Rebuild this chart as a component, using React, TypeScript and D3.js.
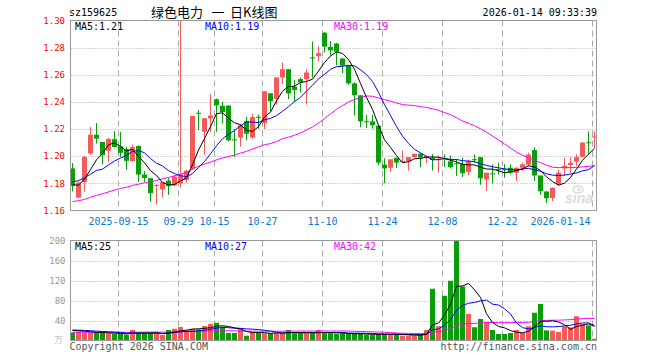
import React from "react";
import * as d3 from "d3";

// ---- data ----
const dates = [
  "2025-09-03","2025-09-04","2025-09-05","2025-09-08","2025-09-09","2025-09-10","2025-09-11","2025-09-12",
  "2025-09-15","2025-09-16","2025-09-17","2025-09-18","2025-09-19","2025-09-22","2025-09-23","2025-09-24",
  "2025-09-25","2025-09-26","2025-09-29","2025-09-30","2025-10-09","2025-10-10","2025-10-13","2025-10-14",
  "2025-10-15","2025-10-16","2025-10-17","2025-10-20","2025-10-21","2025-10-22","2025-10-23","2025-10-24",
  "2025-10-27","2025-10-28","2025-10-29","2025-10-30","2025-10-31","2025-11-03","2025-11-04","2025-11-05",
  "2025-11-06","2025-11-07","2025-11-10","2025-11-11","2025-11-12","2025-11-13","2025-11-14","2025-11-17",
  "2025-11-18","2025-11-19","2025-11-20","2025-11-21","2025-11-24","2025-11-25","2025-11-26","2025-11-27",
  "2025-11-28","2025-12-01","2025-12-02","2025-12-03","2025-12-04","2025-12-05","2025-12-08","2025-12-09",
  "2025-12-10","2025-12-11","2025-12-12","2025-12-15","2025-12-16","2025-12-17","2025-12-18","2025-12-19",
  "2025-12-22","2025-12-23","2025-12-24","2025-12-25","2025-12-26","2025-12-29","2025-12-30","2025-12-31",
  "2026-01-05","2026-01-06","2026-01-07","2026-01-08","2026-01-09","2026-01-12","2026-01-13","2026-01-14",
];

const opens = [
  1.191,1.1695,1.181,1.202,1.2158,1.2105,1.204,1.2125,1.2073,1.2052,
  1.1965,1.2075,1.1865,1.1838,1.1782,1.1755,1.182,1.1785,1.18,1.1825,
  1.191,1.232,1.218,1.2278,1.242,1.2372,1.2373,1.2124,1.2137,1.2259,
  1.2137,1.229,1.2244,1.2463,1.2422,1.258,1.2641,1.2512,1.2568,1.2568,
  1.2728,1.2737,1.291,1.2805,1.283,1.272,1.2668,1.2537,1.2449,1.2258,
  1.2257,1.2225,1.1938,1.1915,1.1988,1.1958,1.1963,1.1993,1.2018,1.1995,
  1.1988,1.1975,1.1985,1.1962,1.1948,1.1945,1.1885,1.1978,1.1993,1.1829,
  1.1873,1.1905,1.1905,1.1915,1.1878,1.1915,1.1937,1.2045,1.1858,1.174,
  1.1692,1.1793,1.191,1.1935,1.196,1.1996,1.2102,1.2138,
];
const highs = [
  1.195,1.1815,1.2,1.2215,1.2244,1.2105,1.2135,1.2185,1.218,1.207,
  1.2085,1.208,1.189,1.184,1.1795,1.181,1.1838,1.1858,1.4,1.19,
  1.2296,1.234,1.228,1.246,1.2425,1.24,1.2375,1.22,1.2234,1.229,
  1.2312,1.2307,1.248,1.2465,1.258,1.269,1.2641,1.256,1.258,1.2641,
  1.2845,1.281,1.2915,1.2849,1.2835,1.2725,1.267,1.2545,1.245,1.2306,
  1.2306,1.2225,1.1985,1.1977,1.199,1.2042,1.1995,1.2018,1.2025,1.2005,
  1.2015,1.2005,1.2013,1.2005,1.198,1.199,1.1975,1.2013,1.1995,1.1878,
  1.194,1.1952,1.194,1.194,1.1918,1.1952,1.2025,1.2065,1.1858,1.1742,
  1.1768,1.1903,1.1988,1.1995,1.2013,1.2103,1.2183,1.2183,
];
const lows = [
  1.174,1.169,1.174,1.201,1.2093,1.194,1.196,1.2065,1.1995,1.19,
  1.1958,1.181,1.181,1.1665,1.1645,1.1695,1.1715,1.1778,1.177,1.1805,
  1.19,1.2195,1.201,1.218,1.218,1.224,1.211,1.1995,1.207,1.2117,
  1.213,1.2202,1.22,1.2332,1.238,1.2532,1.242,1.24,1.247,1.238,
  1.258,1.27,1.2765,1.2741,1.267,1.261,1.2525,1.23,1.2213,1.2208,
  1.2203,1.1935,1.18,1.1885,1.1913,1.1955,1.1893,1.199,1.192,1.195,
  1.1895,1.188,1.192,1.191,1.1855,1.1847,1.186,1.1952,1.179,1.1744,
  1.18,1.1866,1.1842,1.1866,1.1818,1.189,1.1927,1.1818,1.1715,1.1655,
  1.167,1.1781,1.1854,1.1875,1.1927,1.1995,1.2018,1.206,
];
const closes = [
  1.178,1.1805,1.1995,1.2158,1.213,1.201,1.2127,1.2068,1.2025,1.1966,
  1.2067,1.1865,1.184,1.1728,1.1788,1.181,1.178,1.185,1.1866,1.1893,
  1.2296,1.2318,1.228,1.23,1.2375,1.2325,1.2117,1.2117,1.2227,1.2166,
  1.2288,1.2288,1.2478,1.2405,1.258,1.2641,1.2463,1.2488,1.2544,1.2617,
  1.2725,1.276,1.2808,1.278,1.277,1.2668,1.2537,1.2449,1.2257,1.2255,
  1.2228,1.1953,1.191,1.1977,1.1953,1.1965,1.1993,1.2018,1.199,1.2,
  1.1972,1.1978,1.198,1.192,1.1944,1.1875,1.1964,1.1975,1.1837,1.1878,
  1.187,1.1902,1.1901,1.1878,1.1915,1.194,1.2012,1.1858,1.1742,1.169,
  1.1768,1.1878,1.193,1.1952,1.1993,1.21,1.2099,1.2145,
];
// closes of the 29 sessions before the first visible one (only feed the moving averages)
const priorCloses = [
  1.165,1.17,1.168,1.172,1.166,1.17,1.168,1.165,1.17,1.166,
  1.16,1.155,1.15,1.148,1.145,1.147,1.15,1.152,1.155,1.148,
  1.17,1.18,1.188,1.186,1.191,1.182,1.178,1.18,1.177,
];
// volume, 万手
const volumes = [
  16,17.5,16,16,15,15,14.5,13,13,11.7,
  21,14.3,14.3,14.3,14.3,11,21,23.5,27,20.5,
  23,22.3,29,33,35.5,27.7,15,15,22.3,9.5,
  17.5,15,14.5,14.5,14.5,14.5,21,14.5,14.5,14.5,
  14.5,21,14.5,14.5,13,15,13,13,13,11.7,
  11.7,13,13,11.7,13,9.7,9.7,9.7,11.7,21,
  103.5,28.5,89.5,119.5,200,108,53,26.5,43,37,
  21,13,13,15,21,15,28.5,55.5,73,20.3,
  19.7,17,28.3,26.3,48.5,33,30.3,3.7,
];
const priorVolumes = [
  13,14,15,14,13,15,14,13,14,15,14,13,14,15,14,13,14,15,14,14,
  20,22,21,23,22,21,20,22,22,
];

const tickDates = ["2025-09-15","2025-09-29","2025-10-15","2025-10-27","2025-11-10","2025-11-24","2025-12-08","2025-12-22","2026-01-14"];
const tickLabels = ["2025-09-15","09-29","10-15","10-27","11-10","11-24","12-08","12-22","2026-01-14"];
const priceTicks = [1.16,1.18,1.2,1.22,1.24,1.26,1.28,1.3];
const volumeTicks = [40,80,120,160,200];

const maPeriods = [5,10,30];
const maColors = ["#000000","#0000ff","#ff00ff"];
const priceMaLabels = ["MA5:1.21","MA10:1.19","MA30:1.19"];
const volumeMaLabels = ["MA5:25","MA10:27","MA30:42"];

const titleCode = "sz159625";
const titleParts = ["绿色电力","一","日K线图"];
const timeStamp = "2026-01-14 09:33:39";

// ---- layout ----
const W = 660, H = 360;
const L = 70.5, R = 596.5;
const pTop = 20.5, pBot = 210.5;
const vTop = 240.5, vBot = 340.5;
const RED = "#f45a5a";
const GREEN = "#0a9e0a";
const GRID = "#a8a8a8";
const MONO = "'DejaVu Sans Mono', 'Liberation Mono', monospace";

function movingAvg(prior: number[], vals: number[], n: number): number[] {
  const all = prior.concat(vals);
  const off = prior.length;
  return vals.map((_, i) => d3.mean(all.slice(off + i - n + 1, off + i + 1)) as number);
}

export default function App() {
  const idx = d3.range(dates.length);
  const x = d3.scaleBand<number>().domain(idx).range([70, 70 + 6 * dates.length]).padding(0);
  const cx = (i: number) => (x(i) as number) + 2.5;
  const yP = d3.scaleLinear().domain([1.16, 1.3]).range([pBot, pTop]);
  const yV = d3.scaleLinear().domain([0, 200]).range([vBot, vTop]);

  const priceMA = maPeriods.map((n) => movingAvg(priorCloses, closes, n));
  const volMA = maPeriods.map((n) => movingAvg(priorVolumes, volumes, n));
  const lineP = d3.line<number>().x((_, i) => cx(i)).y((d) => yP(d));
  const lineV = d3.line<number>().x((_, i) => cx(i)).y((d) => yV(d));

  const tickIdx = tickDates.map((d) => dates.indexOf(d));
  const gridX = (i: number) => (x(i) as number) + 0.5;
  const up = (i: number) => closes[i] >= opens[i];

  return (
    <svg width={W} height={H} style={{ position: "absolute", left: 0, top: 0, background: "#fff" }}
      fontFamily={MONO}>
      <defs>
        <clipPath id="clipP"><rect x={L} y={pTop} width={R - L} height={pBot - pTop} /></clipPath>
        <clipPath id="clipV"><rect x={L} y={vTop} width={R - L} height={vBot - vTop} /></clipPath>
      </defs>
      <rect x={0} y={0} width={W} height={H} fill="#fff" />

      {/* header */}
      <text x={69} y={16} fontSize={10} fill="#000">{titleCode}</text>
      <text y={16.5} fontSize={13} fill="#000" fontFamily="'Noto Sans CJK SC', sans-serif">
        <tspan x={151}>{titleParts[0]}</tspan>
        <tspan x={211.5}>{titleParts[1]}</tspan>
        <tspan x={230}>{titleParts[2]}</tspan>
      </text>
      <text x={597} y={16} fontSize={10} fill="#000" textAnchor="end">{timeStamp}</text>

      {/* price grid */}
      {priceTicks.filter((t) => t > 1.16 && t < 1.3).map((t) => (
        <line key={"hp" + t} x1={L} x2={R} y1={Math.round(yP(t)) + 0.5} y2={Math.round(yP(t)) + 0.5}
          stroke={GRID} strokeDasharray="1,2" />
      ))}
      {tickIdx.map((i) => (
        <line key={"vp" + i} x1={gridX(i)} x2={gridX(i)} y1={pTop} y2={pBot} stroke={GRID} strokeDasharray="6,4" />
      ))}
      {priceTicks.map((t) => (
        <text key={"pl" + t} x={65} y={yP(t)} dy="0.35em" fontSize={9} fill="#ff0000" textAnchor="end">
          {t.toFixed(2)}
        </text>
      ))}
      {tickIdx.map((i, k) => {
        const lbl = tickLabels[k];
        const half = lbl.length * 3;
        const px = Math.min(gridX(i), R - half - 6);
        return (
          <text key={"xl" + i} x={px} y={224.5} fontSize={10} fill="#0a78d2" textAnchor="middle">{lbl}</text>
        );
      })}

      {/* candles */}
      <g clipPath="url(#clipP)">
        {idx.map((i) => {
          const col = up(i) ? RED : GREEN;
          const yo = yP(opens[i]), yc = yP(closes[i]);
          const top = Math.min(yo, yc);
          const h = Math.max(1, Math.abs(yo - yc));
          return (
            <g key={"c" + i}>
              <line x1={cx(i)} x2={cx(i)} y1={yP(highs[i])} y2={yP(lows[i])} stroke={col} strokeWidth={1} />
              <rect x={x(i)} y={top} width={5} height={h} fill={col} />
            </g>
          );
        })}
        {priceMA.slice().reverse().map((m, k) => (
          <path key={"pm" + k} d={lineP(m) as string} fill="none" stroke={maColors[2 - k]} strokeWidth={1} />
        ))}
        {/* sina watermark */}
        <g opacity={0.75}>
          <ellipse cx={578} cy={189.5} rx={5} ry={3.5} fill="none" stroke="#d0d0d0" strokeWidth={1.5} />
          <circle cx={579} cy={189.5} r={1.6} fill="#d0d0d0" />
          <text x={565} y={203} fontSize={14} fontStyle="italic" fontWeight="bold" fill="#d0d0d0"
            fontFamily="'Liberation Sans', Arial, sans-serif">sina</text>
        </g>
      </g>
      <rect x={L} y={pTop} width={R - L} height={pBot - pTop} fill="none" stroke="#999" />
      {priceMaLabels.map((s, k) => (
        <text key={"pml" + k} x={[75, 205, 334][k]} y={29.5} fontSize={10} fill={maColors[k]}>{s}</text>
      ))}

      {/* volume panel */}
      {volumeTicks.filter((t) => t < 200).map((t) => (
        <line key={"hv" + t} x1={L} x2={R} y1={Math.round(yV(t)) + 0.5} y2={Math.round(yV(t)) + 0.5}
          stroke={GRID} strokeDasharray="1,2" />
      ))}
      {tickIdx.map((i) => (
        <line key={"vv" + i} x1={gridX(i)} x2={gridX(i)} y1={vTop} y2={vBot} stroke={GRID} strokeDasharray="6,4" />
      ))}
      {volumeTicks.map((t) => (
        <text key={"vl" + t} x={65.5} y={yV(t)} dy="0.35em" fontSize={9} fill="#999" textAnchor="end">{t}</text>
      ))}
      <text x={63} y={340} dy="0.35em" fontSize={9} fill="#c8c8c8" textAnchor="end"
        fontFamily="'Noto Sans CJK SC', sans-serif">万</text>
      <g clipPath="url(#clipV)">
        {idx.map((i) => (
          <rect key={"v" + i} x={x(i)} y={yV(volumes[i])} width={5} height={vBot - yV(volumes[i])}
            fill={up(i) ? RED : GREEN} />
        ))}
        {volMA.slice().reverse().map((m, k) => (
          <path key={"vm" + k} d={lineV(m) as string} fill="none" stroke={maColors[2 - k]} strokeWidth={1} />
        ))}
      </g>
      <rect x={L} y={vTop} width={R - L} height={vBot - vTop} fill="none" stroke="#999" />
      {volumeMaLabels.map((s, k) => (
        <text key={"vml" + k} x={[75, 205, 334][k]} y={250} fontSize={10} fill={maColors[k]}>{s}</text>
      ))}

      {/* footer */}
      <text x={69.5} y={350} fontSize={10} fill="#555">Copyright 2026 SINA.COM</text>
      <text x={597} y={350} fontSize={10} fill="#555" textAnchor="end">http://finance.sina.com.cn</text>
    </svg>
  );
}
